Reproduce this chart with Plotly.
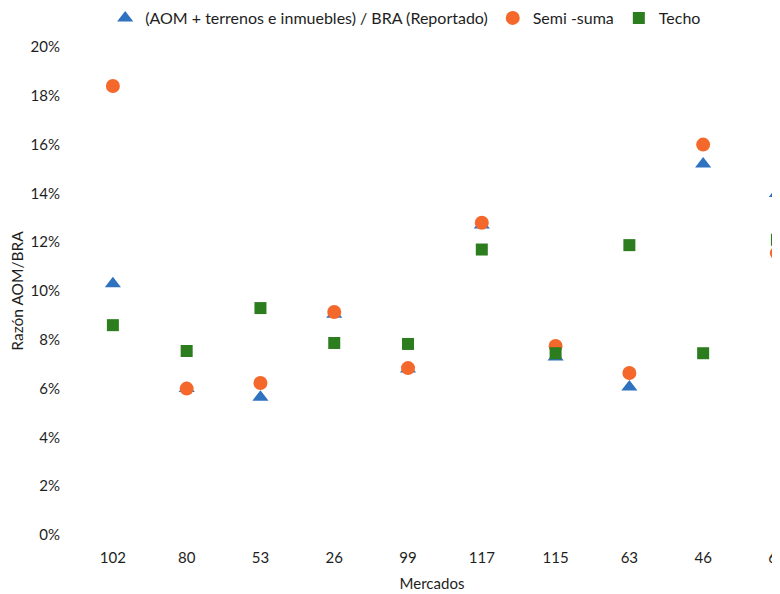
import plotly.graph_objects as go

mercados = ["102", "80", "53", "26", "99", "117", "115", "63", "46", "65"]
reportado = [0.103, 0.060, 0.0565, 0.0905, 0.068, 0.127, 0.073, 0.0607, 0.152, 0.140]
semi_suma = [0.184, 0.060, 0.0623, 0.0914, 0.0684, 0.128, 0.0775, 0.0664, 0.160, 0.1155]
techo = [0.086, 0.0754, 0.093, 0.0787, 0.0783, 0.117, 0.0745, 0.1188, 0.0745, 0.121]

y_ticks = [0, 0.02, 0.04, 0.06, 0.08, 0.10, 0.12, 0.14, 0.16, 0.18, 0.20]
y_ticktext = [f"{int(round(v*100))}%" for v in y_ticks]

FONT = "Lato, 'Open Sans', sans-serif"
TXT = "#1e1e1e"

fig = go.Figure()
fig.add_trace(go.Scatter(x=mercados, y=reportado, mode="markers",
                         name="(AOM + terrenos e inmuebles) / BRA (Reportado)",
                         marker=dict(symbol="triangle-up", size=14, color="#2f72c0"),
                         cliponaxis=False))
fig.add_trace(go.Scatter(x=mercados, y=semi_suma, mode="markers",
                         name="Semi -suma",
                         marker=dict(symbol="circle", size=14, color="#f4692b"),
                         cliponaxis=False))
fig.add_trace(go.Scatter(x=mercados, y=techo, mode="markers",
                         name="Techo",
                         marker=dict(symbol="square", size=12, color="#2b7d1e"),
                         cliponaxis=False))

fig.update_layout(
    width=780, height=594,
    margin=dict(l=68, r=0, t=39, b=67, autoexpand=False),
    paper_bgcolor="white", plot_bgcolor="white",
    font=dict(family=FONT, size=15, color=TXT),
    legend=dict(orientation="h", x=0.041, xanchor="left", y=1.0594, yanchor="middle",
                font=dict(size=16, color=TXT), itemwidth=30,
                bgcolor="rgba(0,0,0,0)"),
    xaxis=dict(type="category", range=[-0.5, 9.15], showgrid=False, zeroline=False,
               showline=False, ticks="", automargin=False, ticklabelstandoff=12,
               tickfont=dict(size=15, color=TXT),
               title=dict(text="Mercados", font=dict(size=15, color=TXT), standoff=13)),
    yaxis=dict(range=[0, 0.20], tickvals=y_ticks, ticktext=y_ticktext, showgrid=False,
               zeroline=False, showline=False, ticks="", automargin=False,
               ticklabelstandoff=15,
               tickfont=dict(size=15, color=TXT),
               title=dict(text="Razón AOM/BRA", font=dict(size=15.5, color=TXT), standoff=4)),
)

fig.write_html("out.html")
